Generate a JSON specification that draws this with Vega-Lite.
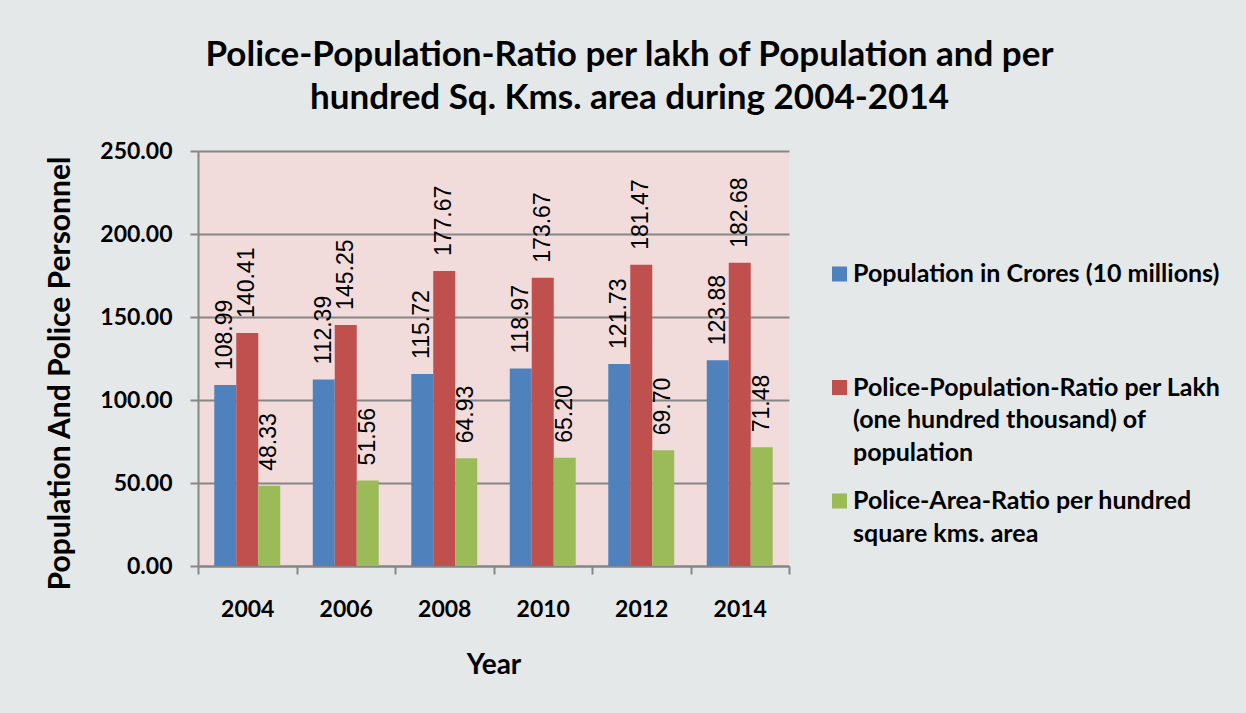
{
  "$schema": "https://vega.github.io/schema/vega-lite/v6.json",
  "width": 591,
  "height": 415,
  "autosize": {"type": "none"},
  "padding": {"left": 198, "top": 151, "right": 457, "bottom": 147},
  "background": "#E5E8E8",
  "title": {
    "text": ["Police-Population-Ratio per lakh of Population and per", "hundred Sq. Kms. area during 2004-2014"],
    "font": "Lato", "fontSize": 35, "fontWeight": "bold", "color": "#000000",
    "anchor": "middle", "frame": "group", "dx": 136, "offset": 24, "lineHeight": 43.5
  },
  "data": {
    "values": [
      {"Year": "2004", "series": "Population in Crores (10 millions)", "value": 108.99},
      {"Year": "2004", "series": "Police-Population-Ratio per Lakh (one hundred thousand) of population", "value": 140.41},
      {"Year": "2004", "series": "Police-Area-Ratio per hundred square kms. area", "value": 48.33},
      {"Year": "2006", "series": "Population in Crores (10 millions)", "value": 112.39},
      {"Year": "2006", "series": "Police-Population-Ratio per Lakh (one hundred thousand) of population", "value": 145.25},
      {"Year": "2006", "series": "Police-Area-Ratio per hundred square kms. area", "value": 51.56},
      {"Year": "2008", "series": "Population in Crores (10 millions)", "value": 115.72},
      {"Year": "2008", "series": "Police-Population-Ratio per Lakh (one hundred thousand) of population", "value": 177.67},
      {"Year": "2008", "series": "Police-Area-Ratio per hundred square kms. area", "value": 64.93},
      {"Year": "2010", "series": "Population in Crores (10 millions)", "value": 118.97},
      {"Year": "2010", "series": "Police-Population-Ratio per Lakh (one hundred thousand) of population", "value": 173.67},
      {"Year": "2010", "series": "Police-Area-Ratio per hundred square kms. area", "value": 65.20},
      {"Year": "2012", "series": "Population in Crores (10 millions)", "value": 121.73},
      {"Year": "2012", "series": "Police-Population-Ratio per Lakh (one hundred thousand) of population", "value": 181.47},
      {"Year": "2012", "series": "Police-Area-Ratio per hundred square kms. area", "value": 69.70},
      {"Year": "2014", "series": "Population in Crores (10 millions)", "value": 123.88},
      {"Year": "2014", "series": "Police-Population-Ratio per Lakh (one hundred thousand) of population", "value": 182.68},
      {"Year": "2014", "series": "Police-Area-Ratio per hundred square kms. area", "value": 71.48}
    ]
  },
  "encoding": {
    "x": {
      "field": "Year", "type": "nominal",
      "scale": {"paddingInner": 0, "paddingOuter": 0},
      "axis": {
        "title": "Year", "labelAngle": 0, "grid": false,
        "labelFont": "Lato", "labelFontSize": 23, "labelFontWeight": "bold", "labelColor": "#000000", "labelPadding": 24,
        "tickBand": "extent", "tickSize": 8, "tickColor": "#868686", "tickWidth": 2,
        "domainColor": "#868686", "domainWidth": 2,
        "titleFont": "Lato", "titleFontSize": 28, "titleFontWeight": "bold", "titleColor": "#000000",
        "titleY": 107, "titleBaseline": "alphabetic"
      }
    },
    "xOffset": {
      "field": "series", "type": "nominal",
      "sort": ["Population in Crores (10 millions)", "Police-Population-Ratio per Lakh (one hundred thousand) of population", "Police-Area-Ratio per hundred square kms. area"],
      "scale": {"paddingInner": 0, "paddingOuter": 0.74}
    },
    "y": {
      "field": "value", "type": "quantitative",
      "scale": {"domain": [0, 250]},
      "axis": {
        "title": "Population And Police Personnel",
        "values": [0, 50, 100, 150, 200, 250], "format": ".2f",
        "labelFont": "Lato", "labelFontSize": 23, "labelFontWeight": "bold", "labelColor": "#000000", "labelPadding": 18,
        "tickSize": 8, "tickColor": "#868686", "tickWidth": 2,
        "domainColor": "#868686", "domainWidth": 2,
        "gridColor": "#868686", "gridWidth": 1.8,
        "titleFont": "Lato", "titleFontSize": 30, "titleFontWeight": "bold", "titleColor": "#000000",
        "titleAngle": 270, "titleX": -129, "titleY": 222, "titleBaseline": "alphabetic", "titleAlign": "center"
      }
    }
  },
  "layer": [
    {
      "mark": {"type": "bar"},
      "encoding": {
        "color": {
          "field": "series", "type": "nominal",
          "scale": {
            "domain": ["Population in Crores (10 millions)", "Police-Population-Ratio per Lakh (one hundred thousand) of population", "Police-Area-Ratio per hundred square kms. area"],
            "range": ["#4F81BD", "#C0504D", "#9BBB59"]
          },
          "legend": {
            "orient": "none", "legendX": 629, "legendY": 110.5, "title": null, "padding": 0,
            "direction": "vertical", "columns": 1,
            "symbolType": "square", "symbolSize": 225, "symbolStrokeWidth": 0,
            "labelFont": "Lato", "labelFontSize": 25, "labelFontWeight": "bold", "labelColor": "#000000",
            "labelLimit": 700, "labelOffset": 1, "labelBaseline": "middle", "rowPadding": 22.5,
            "labelExpr": "datum.value == 'Population in Crores (10 millions)' ? ['Population in Crores (10 millions)', '\u00a0', '\u00a0'] : datum.value == 'Police-Population-Ratio per Lakh (one hundred thousand) of population' ? ['\u00a0Police-Population-Ratio per Lakh', '(one hundred thousand) of', 'population'] : ['\u00a0Police-Area-Ratio per hundred', 'square kms. area', '\u00a0']"
          }
        }
      }
    },
    {
      "mark": {"type": "text", "angle": 270, "align": "left", "baseline": "middle", "dx": 15, "font": "Liberation Sans", "fontSize": 23, "color": "#000000"},
      "encoding": {
        "text": {"field": "value", "type": "quantitative", "format": ".2f"}
      }
    }
  ],
  "config": {
    "view": {"fill": "#F2DCDB", "stroke": null},
    "style": {"guide-label": {"lineHeight": 32.5}}
  }
}
